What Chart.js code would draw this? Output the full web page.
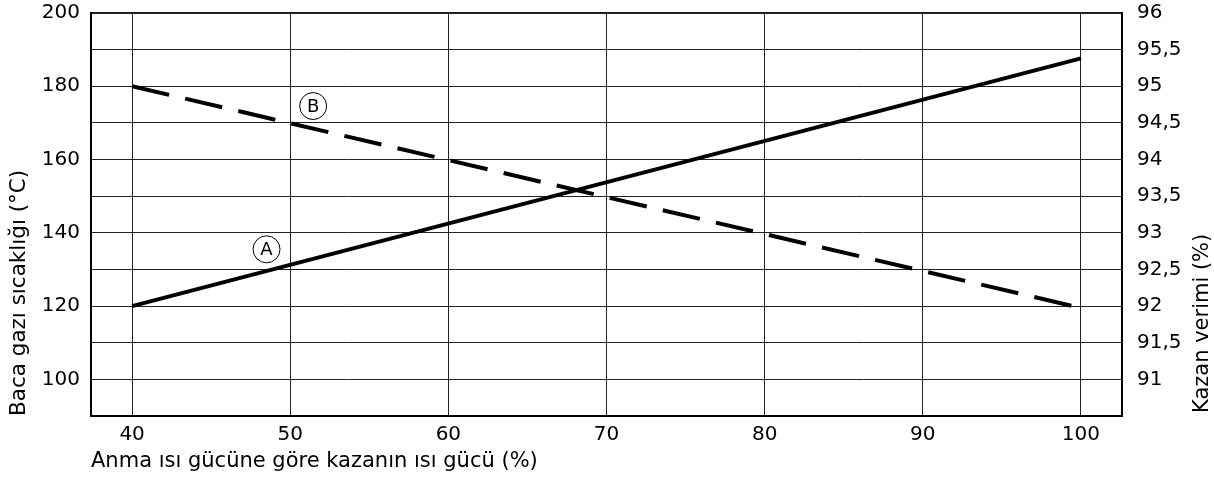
<!DOCTYPE html>
<html>
<head>
<meta charset="utf-8">
<script src="https://cdn.jsdelivr.net/npm/chart.js@4/dist/chart.umd.min.js"></script>
<style>
  html, body { margin: 0; padding: 0; background: #fff; }
  #wrap { width: 1214px; height: 483px; }
</style>
</head>
<body>
<div id="wrap"><canvas id="diagram" width="1214" height="483"></canvas></div>
<script>
// Veriler
const loadA = [40, 100];
const flueTemp = [120, 187.6];      // A - Baca gazı sıcaklığı (°C)
const loadB = [40, 99.5];
const efficiency = [95, 92];        // B - Kazan verimi (%)

const xTicks = [40, 50, 60, 70, 80, 90, 100];
const leftTicks = [100, 120, 140, 160, 180, 200];
const rightTicks = [91, 91.5, 92, 92.5, 93, 93.5, 94, 94.5, 95, 95.5, 96];

// Daire içindeki etiketler (x, sol eksen değeri)
const markLabels = ['A', 'B'];
const markX = [48.5, 51.45];
const markY = [135.5, 174.6];

const FONT = "'DejaVu Sans', sans-serif";

// A / B daireleri ve sağ eksen başlığı
const extrasPlugin = {
    id: 'extras',
    afterDraw(chart) {
        const ctx = chart.ctx;
        const xs = chart.scales.x;
        const ys = chart.scales.y;
        ctx.save();
        for (let i = 0; i < markLabels.length; i++) {
            const px = xs.getPixelForValue(markX[i]);
            const py = ys.getPixelForValue(markY[i]);
            ctx.beginPath();
            ctx.arc(px, py, 13.5, 0, Math.PI * 2);
            ctx.fillStyle = '#fff';
            ctx.fill();
            ctx.lineWidth = 1;
            ctx.strokeStyle = '#000';
            ctx.stroke();
            ctx.fillStyle = '#000';
            ctx.font = '18px ' + FONT;
            ctx.textAlign = 'center';
            ctx.textBaseline = 'middle';
            ctx.fillText(markLabels[i], px, py + 1);
        }
        ctx.restore();

        ctx.save();
        ctx.translate(1208, 413);
        ctx.rotate(-Math.PI / 2);
        ctx.font = '21px ' + FONT;
        ctx.fillStyle = '#000';
        ctx.textAlign = 'left';
        ctx.textBaseline = 'alphabetic';
        ctx.fillText('Kazan verimi (%)', 0, 0);
        ctx.restore();
    }
};

function createChart() {
    const ctx = document.getElementById('diagram').getContext('2d');

    new Chart(ctx, {
        type: 'line',
        data: {
            datasets: [
                {
                    label: 'A',
                    data: loadA.map((x, i) => ({ x: x, y: flueTemp[i] })),
                    yAxisID: 'y',
                    borderColor: '#000',
                    borderWidth: 4,
                    pointRadius: 0,
                    tension: 0
                },
                {
                    label: 'B',
                    data: loadB.map((x, i) => ({ x: x, y: efficiency[i] })),
                    yAxisID: 'y1',
                    borderColor: '#000',
                    borderWidth: 4,
                    borderDash: [38, 16.5],
                    pointRadius: 0,
                    tension: 0
                }
            ]
        },
        options: {
            responsive: false,
            animation: false,
            events: [],
            layout: { padding: 0 },
            plugins: {
                legend: { display: false },
                tooltip: { enabled: false }
            },
            scales: {
                x: {
                    type: 'linear',
                    min: 37.4,
                    max: 102.6,
                    afterBuildTicks: s => { s.ticks = xTicks.map(v => ({ value: v })); },
                    afterFit: s => { s.height = 67; s.paddingLeft = 0; s.paddingRight = 0; },
                    grid: { color: '#222', lineWidth: 1, drawTicks: false },
                    border: { display: true, color: '#000', width: 2 },
                    ticks: {
                        color: '#000',
                        font: { family: FONT, size: 20 },
                        padding: 7,
                        maxRotation: 0
                    },
                    title: {
                        display: true,
                        text: 'Anma ısı gücüne göre kazanın ısı gücü (%)',
                        align: 'start',
                        color: '#000',
                        font: { family: FONT, size: 21 },
                        padding: { top: 0, bottom: 9 }
                    }
                },
                y: {
                    position: 'left',
                    min: 90,
                    max: 200,
                    afterBuildTicks: s => { s.ticks = leftTicks.map(v => ({ value: v })); },
                    afterFit: s => { s.width = 91; s.paddingTop = 13; s.paddingBottom = 0; },
                    grid: { display: false, drawTicks: false },
                    border: { display: true, color: '#000', width: 2 },
                    ticks: {
                        color: '#000',
                        font: { family: FONT, size: 20 },
                        padding: 11
                    },
                    title: {
                        display: true,
                        text: 'Baca gazı sıcaklığı (°C)',
                        align: 'start',
                        color: '#000',
                        font: { family: FONT, size: 21.5 },
                        padding: { top: 7, bottom: 0 }
                    }
                },
                y1: {
                    position: 'right',
                    min: 90.5,
                    max: 96,
                    afterBuildTicks: s => { s.ticks = rightTicks.map(v => ({ value: v })); },
                    afterFit: s => { s.width = 92; s.paddingTop = 13; s.paddingBottom = 0; },
                    grid: {
                        color: '#222',
                        lineWidth: c => (c.tick && c.tick.value === 96 ? 2 : 1),
                        drawTicks: false
                    },
                    border: { display: true, color: '#000', width: 2 },
                    ticks: {
                        color: '#000',
                        font: { family: FONT, size: 20 },
                        padding: 15,
                        callback: v => String(v).replace('.', ',')
                    }
                }
            }
        },
        plugins: [extrasPlugin]
    });
}

createChart();
</script>
</body>
</html>
